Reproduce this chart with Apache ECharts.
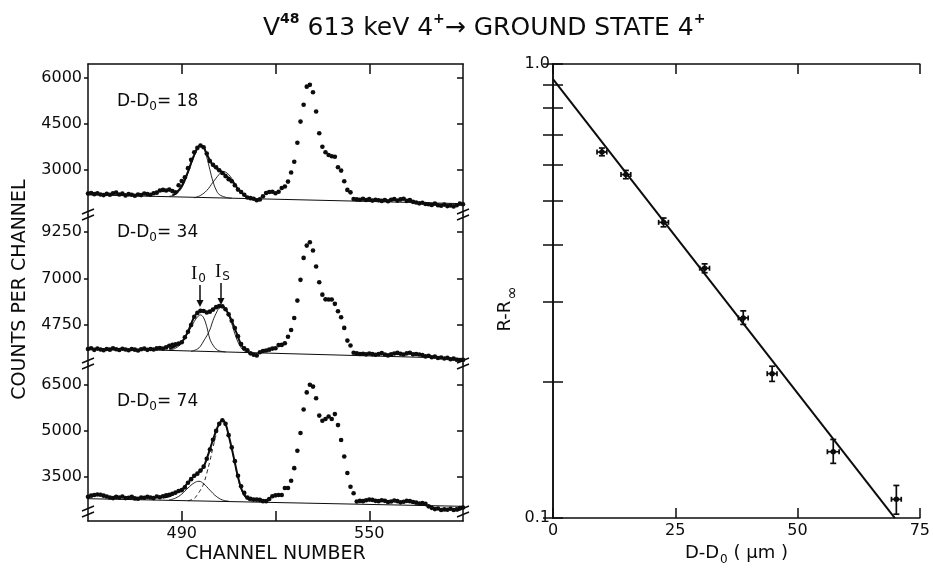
<!DOCTYPE html>
<html>
<head>
<meta charset="utf-8">
<script src="https://cdn.jsdelivr.net/npm/echarts@6/dist/echarts.min.js"></script>
<style>
html, body { margin: 0; padding: 0; background: #fff; }
#main { width: 933px; height: 571px; }
</style>
</head>
<body>
<div id="main"></div>
<script>
// spectra: one value per channel, channel 460 .. 580
var channelStart = 460;
var counts18 = [
  2230, 2250, 2210, 2240, 2200, 2180, 2220, 2190, 2240, 2260,
  2200, 2230, 2170, 2210, 2190, 2160, 2200, 2180, 2230, 2210,
  2190, 2240, 2260, 2330, 2350, 2330, 2360, 2310, 2270, 2500,
  2640, 2760, 3060, 3330, 3580, 3720, 3800, 3740, 3540, 3290,
  3170, 3090, 2990, 2900, 2800, 2700, 2630, 2500, 2360, 2280,
  2190, 2100, 2080, 2060, 2010, 2040, 2140, 2250, 2280, 2290,
  2240, 2290, 2410, 2460, 2620, 2920, 3270, 3890, 4580, 5130,
  5720, 5780, 5540, 4910, 4200, 3760, 3580, 3490, 3450, 3430,
  3090, 2980, 2630, 2350, 2270, 2050, 2040, 2030, 2060, 2020,
  2050, 2000, 2030, 2010, 1990, 2020, 1980, 2030, 2050, 2000,
  2040, 2060, 1990, 2020, 1960, 1940, 1910, 1930, 1890, 1880,
  1860, 1900, 1850, 1830, 1870, 1820, 1840, 1810, 1850, 1900,
  1880
];
var counts34 = [
  3560, 3600, 3520, 3580, 3540, 3500, 3560, 3530, 3590, 3550,
  3510, 3570, 3540, 3500, 3560, 3530, 3490, 3550, 3580, 3520,
  3560, 3540, 3590, 3610, 3580, 3640, 3720, 3760, 3790, 3830,
  3890, 4130, 4400, 4730, 5130, 5320, 5420, 5410, 5340, 5380,
  5480, 5600, 5650, 5640, 5500, 5250, 4940, 4580, 4180, 3800,
  3590, 3500, 3350, 3280, 3250, 3400, 3460, 3490, 3530, 3580,
  3600, 3750, 3760, 3840, 4160, 4490, 5070, 5920, 6930, 8000,
  8600, 8760, 8360, 7580, 6810, 6210, 5980, 5970, 5970, 5760,
  5400, 5110, 4590, 3970, 3730, 3380, 3350, 3320, 3330, 3300,
  3340, 3310, 3280, 3320, 3360, 3290, 3250, 3300, 3340, 3370,
  3330, 3290, 3350, 3380, 3300, 3320, 3290, 3270, 3200, 3230,
  3160, 3190, 3120, 3150, 3100, 3130, 3060, 3090, 3040, 3010,
  3030
];
var counts74 = [
  2830, 2870, 2890, 2910, 2900, 2870, 2840, 2810, 2790, 2830,
  2810, 2840, 2790, 2800, 2830, 2780, 2770, 2810, 2800, 2830,
  2810, 2790, 2840, 2820, 2850, 2880, 2900, 2930, 2970, 3020,
  3050, 3140, 3290, 3410, 3520, 3590, 3690, 3820, 4080, 4380,
  4700, 4990, 5220, 5340, 5220, 4850, 4450, 4000, 3520, 3180,
  2960, 2810, 2770, 2740, 2740, 2730, 2690, 2690, 2760, 2850,
  2880, 2890, 2890, 3120, 3120, 3360, 3770, 4340, 4920, 5690,
  6250, 6500, 6440, 6060, 5490, 5320, 5380, 5460, 5380, 5540,
  5180, 4690, 4150, 3610, 3160, 2950, 2680, 2700, 2690, 2720,
  2740, 2730, 2700, 2690, 2720, 2700, 2660, 2680, 2710, 2690,
  2650, 2670, 2700, 2690, 2660, 2640, 2610, 2630, 2600, 2520,
  2470, 2430, 2450, 2400, 2420, 2410, 2440, 2400, 2420, 2460,
  2480
];

// fitted curves: [channel, counts]
var base18 = [[460, 2190], [580, 1900]];
var peakA18 = [[486, 2140], [488, 2200], [490, 2420], [492, 2900], [494, 3450], [495, 3680], [496, 3790], [497, 3730], [498, 3420], [499, 3010], [500, 2620], [501, 2350], [502, 2200], [504, 2110], [506, 2080]];
var peakB18 = [[494, 2090], [496, 2170], [498, 2330], [500, 2600], [502, 2860], [503, 2950], [504, 2930], [505, 2850], [506, 2720], [508, 2400], [510, 2180], [512, 2070]];
var total18 = [[487, 2180], [488, 2230], [490, 2480], [492, 2950], [494, 3500], [496, 3800], [497, 3750], [498, 3520], [500, 3150], [502, 2990], [503, 2930], [504, 2830], [506, 2650], [508, 2380], [510, 2180], [511, 2110]];

var base34 = [[460, 3600], [580, 3100]];
var peakA34 = [[486, 3500], [488, 3600], [490, 3850], [492, 4350], [494, 4900], [495, 5120], [496, 5220], [497, 5080], [498, 4650], [499, 4050], [500, 3750], [501, 3560], [502, 3470], [504, 3420]];
var peakB34 = [[493, 3440], [495, 3560], [496, 3700], [497, 3950], [498, 4200], [499, 4500], [500, 4950], [501, 5300], [502, 5560], [503, 5640], [504, 5520], [505, 5200], [506, 4800], [507, 4300], [508, 3900], [509, 3620], [510, 3470], [512, 3380]];
var total34 = [[486, 3560], [488, 3700], [490, 3900], [492, 4420], [494, 5130], [495, 5320], [496, 5420], [497, 5420], [498, 5360], [499, 5400], [500, 5500], [501, 5600], [502, 5650], [503, 5640], [504, 5500], [505, 5250], [506, 4930], [507, 4560], [508, 4150], [509, 3780], [510, 3580], [511, 3480]];

var base74 = [[460, 2770], [580, 2520]];
var peakA74 = [[486, 2730], [488, 2790], [490, 2920], [492, 3120], [494, 3290], [495.5, 3340], [497, 3260], [499, 3050], [501, 2850], [503, 2730], [505, 2690]];
var peakB74 = [[492, 2700], [494, 2780], [495, 2900], [496, 3060], [497, 3260], [498, 3600], [499, 4000], [500, 4450], [501, 4860], [502, 5170], [503, 5320], [504, 5210], [505, 4850], [506, 4400], [507, 3920], [508, 3440], [509, 3080], [510, 2860], [511, 2750], [512, 2700], [513, 2680]];
var total74 = [[484, 2810], [486, 2850], [488, 2960], [490, 3060], [492, 3300], [494, 3510], [496, 3690], [497, 3820], [498, 4080], [499, 4380], [500, 4700], [501, 4990], [502, 5220], [503, 5340], [504, 5220], [505, 4850], [506, 4420], [507, 3950], [508, 3480], [509, 3120], [510, 2900], [511, 2780], [512, 2730]];

// tick labels of the three spectra
var ticks18 = [3000, 4500, 6000];
var ticks34 = [4750, 7000, 9250];
var ticks74 = [3500, 5000, 6500];
var channelTicks = [490, 520, 550];
var channelLabels = [490, 550];

// R - R_inf against D - D0
var ratioX = [10.0, 14.9, 22.6, 31.0, 38.9, 44.8, 57.3, 70.2];
var ratioY = [0.640, 0.571, 0.448, 0.355, 0.276, 0.208, 0.140, 0.110];
var ratioXErr = [1.0, 1.0, 1.0, 1.0, 1.0, 1.0, 1.2, 1.0];
var ratioYLow = [0.628, 0.559, 0.438, 0.347, 0.267, 0.200, 0.132, 0.102];
var ratioYHigh = [0.653, 0.583, 0.458, 0.363, 0.286, 0.216, 0.149, 0.118];
var fitX = [0, 69.9];
var fitY = [0.926, 0.1];
var ratioTicks = [0.1, 0.2, 0.3, 0.4, 0.5, 0.6, 0.7, 0.8, 0.9, 1.0];
var ratioLabels = [0.1, 1.0];

var ink = '#0c0c0c';
var font = 'DejaVu Sans';

function toPairs(arr) {
  return arr.map(function (v, i) { return [channelStart + i, v]; });
}
function plain(v) { return String(Math.round(v)); }

var panels = [
  { counts: counts18, base: base18, a: peakA18, b: peakB18, total: total18, ticks: ticks18, min: 1530, max: 6460, bDashed: false },
  { counts: counts34, base: base34, a: peakA34, b: peakB34, total: total34, ticks: ticks34, min: 2830, max: 10090, bDashed: false },
  { counts: counts74, base: base74, a: peakA74, b: peakB74, total: total74, ticks: ticks74, min: 2040, max: 7180, bDashed: true }
];

var grids = [
  { left: 88, width: 375, top: 64, height: 151 },
  { left: 88, width: 375, top: 215, height: 149 },
  { left: 88, width: 375, top: 364, height: 157 },
  { left: 553, width: 371, top: 64, height: 457 }
];

var xAxes = [], yAxes = [], series = [];
var lineStyleAxis = { color: ink, width: 1.5 };

panels.forEach(function (p, i) {
  var isTop = i === 0, isBottom = i === 2;
  xAxes.push({
    gridIndex: i, type: 'value', min: 460, max: 580,
    position: isTop ? 'top' : 'bottom',
    show: isTop || isBottom,
    axisLine: { show: true, onZero: false, lineStyle: lineStyleAxis },
    axisTick: { show: true, inside: true, length: 10, lineStyle: lineStyleAxis, customValues: channelTicks },
    axisLabel: { show: isBottom, customValues: channelLabels, formatter: plain, color: ink, fontFamily: font, fontSize: 16, margin: 5 },
    splitLine: { show: false },
    name: isBottom ? 'CHANNEL NUMBER' : '',
    nameLocation: 'middle', nameGap: 24,
    nameTextStyle: { color: ink, fontFamily: font, fontSize: 19 }
  });
  yAxes.push({
    gridIndex: i, type: 'value', min: p.min, max: p.max, position: 'left',
    axisLine: { show: true, lineStyle: lineStyleAxis },
    axisTick: { show: true, inside: false, length: 4, lineStyle: lineStyleAxis, customValues: p.ticks },
    axisLabel: { customValues: p.ticks, formatter: plain, color: ink, fontFamily: font, fontSize: 16, margin: 6 },
    splitLine: { show: false },
    name: i === 1 ? 'COUNTS PER CHANNEL' : '',
    nameLocation: 'middle', nameGap: 58, nameRotate: 90,
    nameTextStyle: { color: ink, fontFamily: font, fontSize: 19 }
  });
  yAxes.push({
    gridIndex: i, type: 'value', min: p.min, max: p.max, position: 'right',
    axisLine: { show: true, lineStyle: lineStyleAxis },
    axisTick: { show: true, inside: true, length: 6, lineStyle: lineStyleAxis, customValues: p.ticks },
    axisLabel: { show: false },
    splitLine: { show: false }
  });
  var yi = i * 2;
  series.push({
    type: 'line', xAxisIndex: i, yAxisIndex: yi, data: p.base, symbol: 'none',
    lineStyle: { color: ink, width: 1 }, silent: true, z: 2
  });
  series.push({
    type: 'line', xAxisIndex: i, yAxisIndex: yi, data: p.a, symbol: 'none', smooth: 0.4,
    lineStyle: { color: ink, width: 0.9 }, silent: true, z: 2
  });
  series.push({
    type: 'line', xAxisIndex: i, yAxisIndex: yi, data: p.b, symbol: 'none', smooth: 0.4,
    lineStyle: { color: ink, width: 0.9, type: p.bDashed ? [4, 3] : 'solid' }, silent: true, z: 2
  });
  series.push({
    type: 'line', xAxisIndex: i, yAxisIndex: yi, data: p.total, symbol: 'none', smooth: 0.4,
    lineStyle: { color: ink, width: 2 }, silent: true, z: 3
  });
  series.push({
    type: 'scatter', xAxisIndex: i, yAxisIndex: yi, data: toPairs(p.counts),
    symbol: 'circle', symbolSize: 4.6, itemStyle: { color: ink, opacity: 1 }, silent: true, z: 4
  });
});

// right-hand panel
xAxes.push({
  gridIndex: 3, type: 'value', min: 0, max: 75, interval: 25, position: 'bottom',
  axisLine: { show: true, onZero: false, lineStyle: lineStyleAxis },
  axisTick: { inside: true, length: 10, lineStyle: lineStyleAxis },
  axisLabel: { color: ink, fontFamily: font, fontSize: 16, margin: 5 },
  splitLine: { show: false },
  name: '{a|D-D}{s|0}{a| ( μm )}',
  nameLocation: 'middle', nameGap: 24,
  nameTextStyle: {
    color: ink, fontFamily: font, fontSize: 18,
    rich: {
      a: { fontFamily: font, fontSize: 18, lineHeight: 20, verticalAlign: 'top', color: ink },
      s: { fontFamily: font, fontSize: 12, lineHeight: 12, padding: [10, 0, 0, 1], verticalAlign: 'top', color: ink }
    }
  }
});
xAxes.push({
  gridIndex: 3, type: 'value', min: 0, max: 75, interval: 25, position: 'top',
  axisLine: { show: true, onZero: false, lineStyle: lineStyleAxis },
  axisTick: { inside: true, length: 10, lineStyle: lineStyleAxis },
  axisLabel: { show: false },
  splitLine: { show: false }
});
yAxes.push({
  gridIndex: 3, type: 'log', logBase: 10, min: 0.1, max: 1, position: 'left',
  axisLine: { show: true, lineStyle: lineStyleAxis },
  axisTick: { inside: true, length: 10, lineStyle: lineStyleAxis, customValues: ratioTicks },
  axisLabel: {
    customValues: ratioLabels, color: ink, fontFamily: font, fontSize: 16, margin: 3,
    formatter: function (v) { return Number(v).toFixed(1); }
  },
  splitLine: { show: false },
  name: '{a|R-R}{s|∞}',
  nameLocation: 'middle', nameGap: 8, nameRotate: 90,
  nameTextStyle: {
    color: ink, fontFamily: font, fontSize: 18, padding: [0, 36, 0, 0],
    rich: {
      a: { fontFamily: font, fontSize: 18, lineHeight: 20, verticalAlign: 'top', color: ink },
      s: { fontFamily: font, fontSize: 16, lineHeight: 14, padding: [8, 0, 0, 1], verticalAlign: 'top', color: ink }
    }
  }
});
yAxes.push({
  gridIndex: 3, type: 'log', logBase: 10, min: 0.1, max: 1, position: 'right',
  axisLine: { show: true, lineStyle: lineStyleAxis },
  axisTick: { inside: true, length: 10, lineStyle: lineStyleAxis, customValues: ratioTicks },
  axisLabel: { show: false },
  splitLine: { show: false }
});

series.push({
  type: 'line', xAxisIndex: 3, yAxisIndex: 6,
  data: fitX.map(function (x, i) { return [x, fitY[i]]; }),
  symbol: 'none', lineStyle: { color: ink, width: 2 }, silent: true
});
series.push({
  type: 'custom', xAxisIndex: 3, yAxisIndex: 6, silent: true, clip: false,
  data: ratioX.map(function (x, i) { return [x, ratioY[i], ratioXErr[i], ratioYLow[i], ratioYHigh[i]]; }),
  encode: { x: 0, y: 1 },
  renderItem: function (params, api) {
    var x = api.value(0), y = api.value(1), xe = api.value(2);
    var c = api.coord([x, y]);
    var l = api.coord([x - xe, y]), r = api.coord([x + xe, y]);
    var lo = api.coord([x, api.value(3)]), hi = api.coord([x, api.value(4)]);
    var st = { stroke: ink, lineWidth: 1.7 };
    function seg(x1, y1, x2, y2) { return { type: 'line', shape: { x1: x1, y1: y1, x2: x2, y2: y2 }, style: st }; }
    return {
      type: 'group',
      children: [
        seg(l[0], c[1], r[0], c[1]),
        seg(l[0], c[1] - 2.5, l[0], c[1] + 2.5),
        seg(r[0], c[1] - 2.5, r[0], c[1] + 2.5),
        seg(c[0], lo[1], c[0], hi[1]),
        seg(c[0] - 3, lo[1], c[0] + 3, lo[1]),
        seg(c[0] - 3, hi[1], c[0] + 3, hi[1])
      ]
    };
  }
});
series.push({
  type: 'scatter', xAxisIndex: 3, yAxisIndex: 6,
  data: ratioX.map(function (x, i) { return [x, ratioY[i]]; }),
  symbol: 'circle', symbolSize: 5.5, itemStyle: { color: ink, opacity: 1 }, silent: true
});

// axis breaks drawn on the shared frame
function breakMark(x, y) {
  return {
    type: 'group', x: x, y: y, z: 100,
    children: [
      { type: 'rect', shape: { x: -3, y: -3, width: 6, height: 6 }, style: { fill: '#fff' } },
      { type: 'line', shape: { x1: -6, y1: -1, x2: 6, y2: -6 }, style: { stroke: ink, lineWidth: 1.4 } },
      { type: 'line', shape: { x1: -6, y1: 5, x2: 6, y2: 0 }, style: { stroke: ink, lineWidth: 1.4 } }
    ]
  };
}

var richPanel = {
  a: { fontFamily: font, fontSize: 17, lineHeight: 18, verticalAlign: 'top', fill: ink },
  s: { fontFamily: font, fontSize: 12, lineHeight: 12, padding: [8, 0, 0, 0], verticalAlign: 'top', fill: ink }
};
var richI = {
  i: { fontFamily: 'Liberation Serif', fontSize: 19, lineHeight: 18, verticalAlign: 'top', fill: ink },
  s: { fontFamily: font, fontSize: 12, lineHeight: 12, padding: [8, 0, 0, 1], verticalAlign: 'top', fill: ink }
};

function arrow(x, y1, y2) {
  return {
    type: 'group', children: [
      { type: 'line', shape: { x1: x, y1: y1, x2: x, y2: y2 - 5 }, style: { stroke: ink, lineWidth: 1.5 } },
      { type: 'polygon', shape: { points: [[x - 3.5, y2 - 7], [x + 3.5, y2 - 7], [x, y2]] }, style: { fill: ink } }
    ]
  };
}

var graphics = [
  {
    type: 'text', left: 263, top: 10,
    style: {
      text: '{b|V}{p|48}{b| 613 keV 4}{p|+}{b|→ GROUND STATE 4}{p|+}',
      rich: {
        b: { fontFamily: font, fontSize: 25, lineHeight: 26, padding: [6, 0, 0, 0], verticalAlign: 'top', fill: ink },
        p: { fontFamily: font, fontSize: 14, lineHeight: 14, padding: [2, 0, 0, 0], verticalAlign: 'top', fontWeight: 'bold', fill: ink }
      }
    }
  },
  { type: 'text', left: 117, top: 93, style: { text: '{a|D-D}{s|0}{a|= 18}', rich: richPanel } },
  { type: 'text', left: 117, top: 224, style: { text: '{a|D-D}{s|0}{a|= 34}', rich: richPanel } },
  { type: 'text', left: 117, top: 393, style: { text: '{a|D-D}{s|0}{a|= 74}', rich: richPanel } },
  { type: 'text', left: 191, top: 265, style: { text: '{i|I}{s|0}', rich: richI } },
  { type: 'text', left: 215, top: 263, style: { text: '{i|I}{s|S}', rich: richI } },
  arrow(200, 285, 307),
  arrow(221, 283, 305)
];
[215, 364, 512].forEach(function (y) {
  graphics.push(breakMark(88, y));
  graphics.push(breakMark(463, y));
});

var chart = echarts.init(document.getElementById('main'), null, { renderer: 'canvas' });
chart.setOption({
  backgroundColor: '#fff',
  animation: false,
  grid: grids,
  xAxis: xAxes,
  yAxis: yAxes,
  series: series,
  graphic: graphics
});
</script>
</body>
</html>
